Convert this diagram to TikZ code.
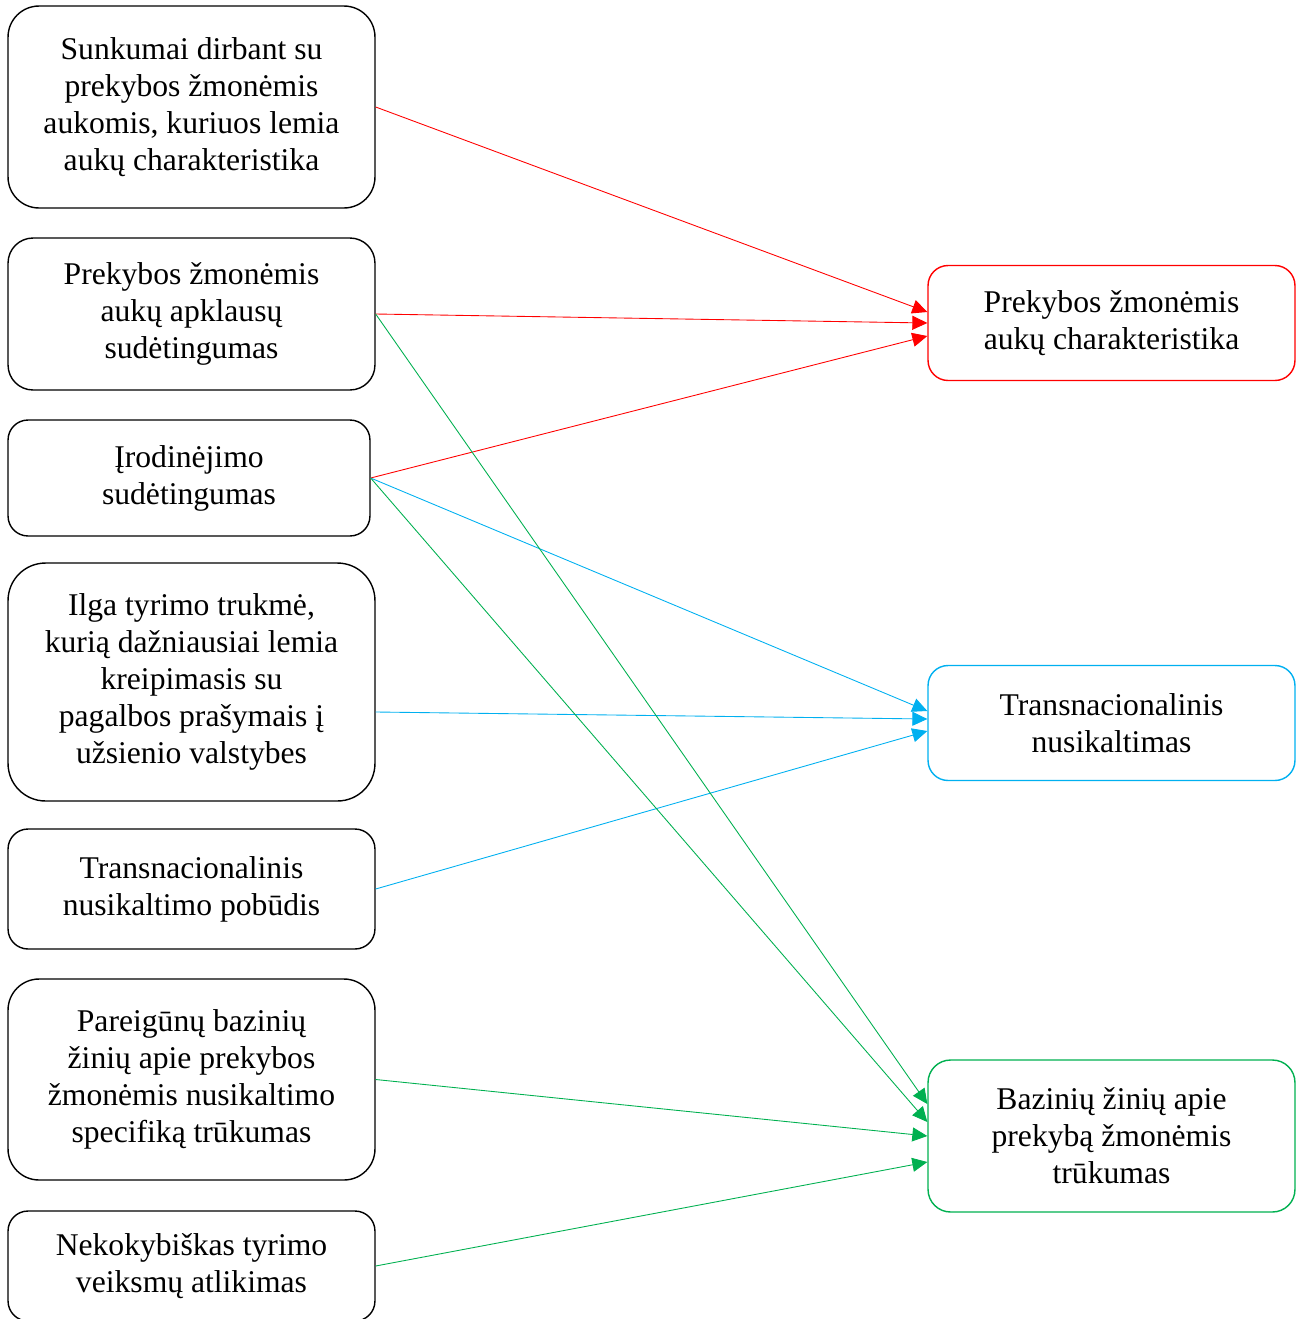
\documentclass[tikz,border=0pt]{standalone}
\usepackage{fontspec}
\setmainfont{Liberation Serif}
\usetikzlibrary{arrows.meta}
\definecolor{wred}{HTML}{FF0000}
\definecolor{wblue}{HTML}{00B0F0}
\definecolor{wgreen}{HTML}{00B050}
\tikzset{
    > = {Triangle[length = 0.3cm, width = 0.28cm]},
    box/.style = {draw, line width = 0.8pt, align = center, inner sep = 0pt,
        font = \fontsize{18}{21}\selectfont},
    leftbox/.style = {box, minimum width = 7.34cm},
    rightbox/.style = {box, minimum width = 7.34cm, rounded corners = 0.4cm},
    link/.style = {->, line width = 0.5pt}
}
\begin{document}
\begin{tikzpicture}[x = 0.02cm, y = -0.02cm]
    \useasboundingbox (0, 0) rectangle (1303, 1319);

    \node[leftbox, minimum height = 4.04cm, rounded corners = 0.62cm] (sunk) at (191.5, 107)
        {Sunkumai dirbant su\\prekybos žmonėmis\\aukomis, kuriuos lemia\\aukų charakteristika};
    \node[leftbox, minimum height = 3.04cm, rounded corners = 0.5cm] (apkl) at (191.5, 314)
        {Prekybos žmonėmis\\aukų apklausų\\sudėtingumas};
    \node[leftbox, minimum width = 7.24cm, minimum height = 2.32cm, rounded corners = 0.4cm] (irod) at (189, 478)
        {Įrodinėjimo\\sudėtingumas};
    \node[leftbox, minimum height = 4.76cm, rounded corners = 0.75cm] (trukme) at (191.5, 682)
        {Ilga tyrimo trukmė,\\kurią dažniausiai lemia\\kreipimasis su\\pagalbos prašymais į\\užsienio valstybes};
    \node[leftbox, minimum height = 2.4cm, rounded corners = 0.4cm] (pobud) at (191.5, 889)
        {Transnacionalinis\\nusikaltimo pobūdis};
    \node[leftbox, minimum height = 4.02cm, rounded corners = 0.62cm] (zinios) at (191.5, 1079.5)
        {Pareigūnų bazinių\\žinių apie prekybos\\žmonėmis nusikaltimo\\specifiką trūkumas};
    \node[leftbox, minimum height = 2.2cm, rounded corners = 0.4cm] (nekok) at (191.5, 1266)
        {Nekokybiškas tyrimo\\veiksmų atlikimas};

    \node[rightbox, draw = wred, minimum height = 2.3cm] (charak) at (1111.5, 323)
        {Prekybos žmonėmis\\aukų charakteristika};
    \node[rightbox, draw = wblue, minimum height = 2.3cm] (transn) at (1111.5, 723)
        {Transnacionalinis\\nusikaltimas};
    \node[rightbox, draw = wgreen, minimum height = 3.04cm, rounded corners = 0.45cm] (trukum) at (1111.5, 1136)
        {Bazinių žinių apie\\prekybą žmonėmis\\trūkumas};

    % red
    \draw (sunk.east) edge[link, wred] ([yshift = 0.22cm]charak.west);
    \draw (apkl.east) edge[link, wred] (charak.west);
    \draw (irod.east) edge[link, wred] ([yshift = -0.26cm]charak.west);
    % blue
    \draw (irod.east) edge[link, wblue] ([yshift = 0.24cm]transn.west);
    \draw ([yshift = -0.6cm]trukme.east) edge[link, wblue] ([yshift = 0.08cm]transn.west);
    \draw (pobud.east) edge[link, wblue] ([yshift = -0.16cm]transn.west);
    % green
    \draw (apkl.east) edge[link, wgreen] ([yshift = 0.64cm]trukum.west);
    \draw (irod.east) edge[link, wgreen] ([yshift = 0.28cm]trukum.west);
    \draw (zinios.east) edge[link, wgreen] (trukum.west);
    \draw (nekok.east) edge[link, wgreen] ([yshift = -0.52cm]trukum.west);
\end{tikzpicture}
\end{document}
